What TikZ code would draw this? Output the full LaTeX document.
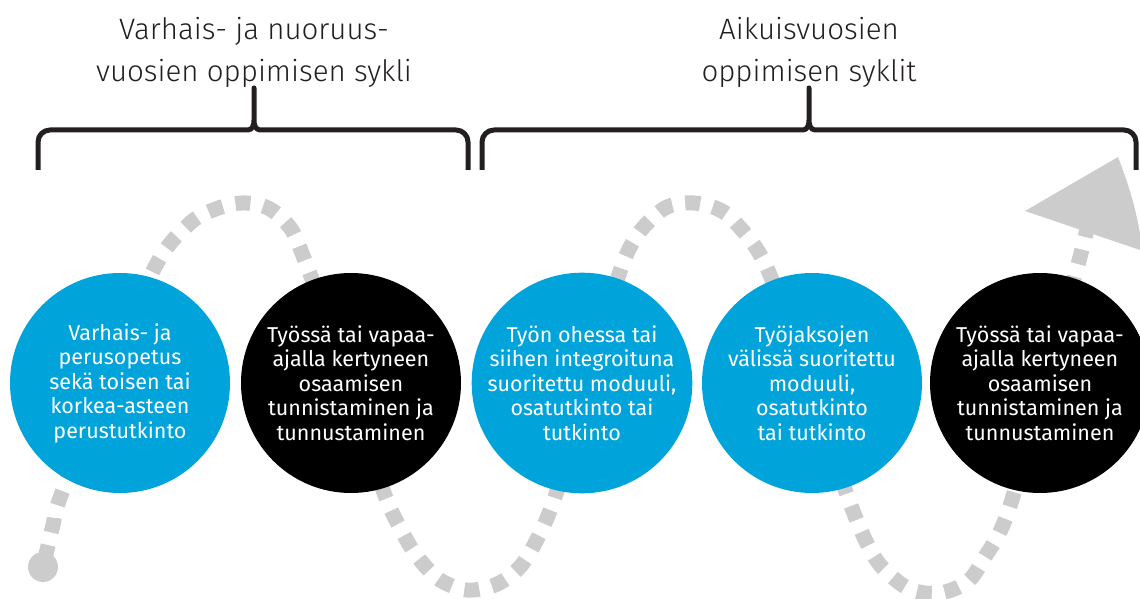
\documentclass[tikz,border=0pt]{standalone}
\usepackage{fontspec}
\setmainfont{Fira Sans}
\newfontfamily\headfont{Fira Sans Light}
\usetikzlibrary{positioning}
\definecolor{cycleblue}{RGB}{0,163,218}
\definecolor{pathgrey}{RGB}{204,204,204}
\definecolor{inkblack}{RGB}{35,31,32}
\tikzset{
  ball/.style={circle, minimum size=220pt, inner sep=0pt, align=center, text=white,
    font=\fontsize{21.5}{24.5}\selectfont},
  blueball/.style={ball, fill=cycleblue},
  blackball/.style={ball, fill=black},
  wave/.style={draw=pathgrey, line width=15pt, dash pattern=on 15pt off 13pt, dash phase=20.5pt},
  bracket/.style={draw=inkblack, line width=5pt, line join=round},
  heading/.style={align=center, text=inkblack, font=\headfont\fontsize{29.5}{42}\selectfont},
}

\begin{document}
\begin{tikzpicture}[x=1pt, y=1pt]
    \useasboundingbox (0,0) rectangle (1140,598);
    \fill[white] (0,0) rectangle (1140,598);

    % grey learning path under the circles
    \node[circle, fill=pathgrey, minimum size=30pt, inner sep=0pt] (start) at (43,31) {};
    \coordinate (end) at (1088,373);
    \draw[wave] plot[smooth, tension=0.55] coordinates {
        (start) (53,73) (60,100) (105,215) (155,331) (188,373) (213,388) (242,395)
        (268,390) (288,373) (302,345) (350,215) (383,108) (405,61) (420,38)
        (440,18) (467,8) (495,13) (517,28) (533,51) (555,101) (588,215)
        (625,340) (658,385) (685,395) (713,391) (735,376) (767,330) (808,215)
        (850,95) (872,45) (890,23) (912,8) (940,5) (967,16) (983,38) (1008,86)
        (1044,215) (1077,330) (end)};

    \node[blueball]  (early)     at (120,215) {Varhais- ja\\perusopetus\\sekä toisen tai\\korkea-asteen\\perustutkinto};
    \node[blackball] (informal)  at (351,215) {Työssä tai vapaa-\\ajalla kertyneen\\osaamisen\\tunnistaminen ja\\tunnustaminen};
    \node[blueball]  (onjob)     at (582,215) {Työn ohessa tai\\siihen integroituna\\suoritettu moduuli,\\osatutkinto tai\\tutkinto};
    \node[blueball]  (between)   at (812,215) {Työjaksojen\\välissä suoritettu\\moduuli,\\osatutkinto\\tai tutkinto};
    \node[blackball] (informal2) at (1040,215) {Työssä tai vapaa-\\ajalla kertyneen\\osaamisen\\tunnistaminen ja\\tunnustaminen};

    % arrow head at the end of the path
    \fill[pathgrey] (1025,387) -- (1118,441) to[bend left=6] (1143,347) -- cycle;

    % braces and their headings
    \foreach \l/\m/\r in {38/254/468, 482/809/1136} {
        \draw[bracket] (\l,428) -- (\l,456) to[out=90,in=180] ({\l+12},468)
            -- ({\m-6},468) to[out=0,in=-90] (\m,478) -- (\m,510)
            -- (\m,478) to[out=-90,in=180] ({\m+6},468)
            -- ({\r-12},468) to[out=0,in=90] (\r,456) -- (\r,428);
    }
    \node[heading] (youth) at (254,546) {Varhais- ja nuoruus-\\vuosien oppimisen sykli};
    \node[heading] (adult) at (809,546) {Aikuisvuosien\\oppimisen syklit};
\end{tikzpicture}
\end{document}
